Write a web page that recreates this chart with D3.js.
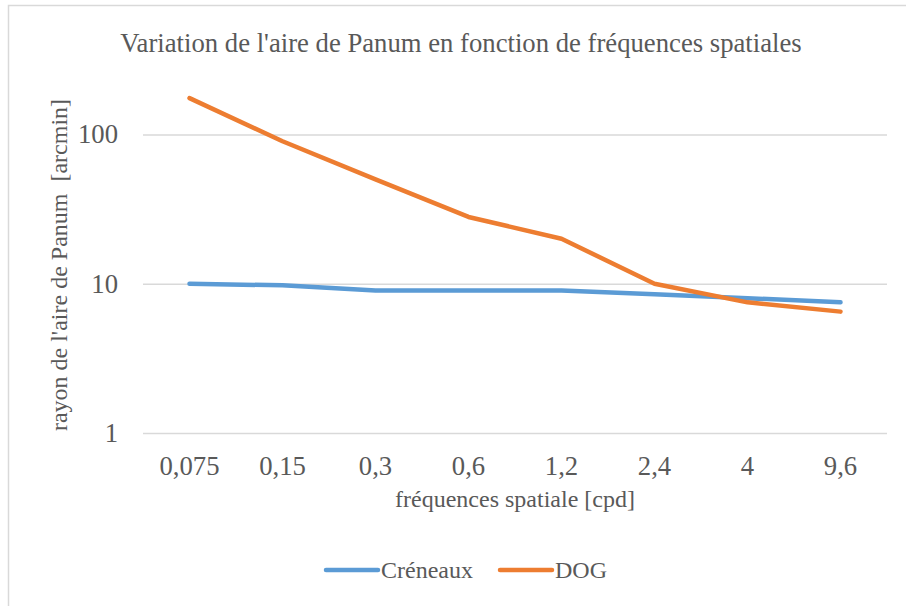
<!DOCTYPE html>
<html>
<head>
<meta charset="utf-8">
<script src="https://cdn.jsdelivr.net/npm/d3@7"></script>
<style>
  body { margin: 0; background: #fff; }
  svg { display: block; font-family: "Liberation Serif", "Times New Roman", serif; }
  text { fill: #595959; }
</style>
</head>
<body>
<svg width="906" height="606"></svg>
<script>
// spatial frequency categories (cpd)
var categories = ["0,075", "0,15", "0,3", "0,6", "1,2", "2,4", "4", "9,6"];
var creneaux = [10, 9.75, 9, 9, 9, 8.5, 8, 7.5];
var dog = [175, 90, 50, 28, 20, 10, 7.5, 6.5];
var yTicks = [1, 10, 100];

var series = [
  {name: "Créneaux", values: creneaux, color: "#5B9BD5"},
  {name: "DOG", values: dog, color: "#ED7D31"}
];

var svg = d3.select("svg"),
    margin = {top: 75, right: 19, bottom: 173, left: 143},
    width = 906 - margin.left - margin.right,
    height = 606 - margin.top - margin.bottom;

// chart area border (cropped on right / bottom)
svg.append("rect")
    .attr("x", 8.5).attr("y", 5.5)
    .attr("width", 1000).attr("height", 1000)
    .attr("fill", "none")
    .attr("stroke", "#D9D9D9")
    .attr("stroke-width", 1.5);

svg.append("text")
    .attr("x", 461).attr("y", 52)
    .attr("text-anchor", "middle")
    .style("font-size", "26.7px")
    .text("Variation de l'aire de Panum en fonction de fréquences spatiales");

var g = svg.append("g").attr("transform", "translate(" + margin.left + "," + margin.top + ")");

var x = d3.scaleBand().domain(categories).range([0, width]),
    y = d3.scaleLog().domain([1, 250]).range([height, 0]);

// gridlines
g.append("g")
    .attr("class", "grid")
    .call(d3.axisLeft(y).tickValues(yTicks).tickSize(-width).tickFormat(""))
    .call(function(s) {
      s.select(".domain").remove();
      s.selectAll("line").attr("stroke", "#D9D9D9").attr("stroke-width", 1.5);
    });

// y tick labels
g.append("g")
    .call(d3.axisLeft(y).tickValues(yTicks).tickSize(0).tickPadding(25).tickFormat(d3.format("d")))
    .attr("font-family", null)
    .attr("font-size", 26.7)
    .call(function(s) {
      s.select(".domain").remove();
      s.selectAll("text").attr("fill", "#595959");
    });

// x tick labels
g.append("g")
    .attr("transform", "translate(0," + height + ")")
    .call(d3.axisBottom(x).tickSize(0).tickPadding(23))
    .attr("font-family", null)
    .attr("font-size", 26.7)
    .call(function(s) {
      s.select(".domain").remove();
      s.selectAll("text").attr("fill", "#595959");
    });

var line = d3.line()
    .x(function(d, i) { return x(categories[i]) + x.bandwidth() / 2; })
    .y(function(d) { return y(d); });

g.selectAll(".series")
  .data(series)
  .enter().append("path")
    .attr("class", "series")
    .attr("d", function(d) { return line(d.values); })
    .attr("fill", "none")
    .attr("stroke", function(d) { return d.color; })
    .attr("stroke-width", 4.5)
    .attr("stroke-linecap", "round")
    .attr("stroke-linejoin", "round");

// axis titles
svg.append("text")
    .attr("x", margin.left + width / 2).attr("y", 507)
    .attr("text-anchor", "middle")
    .style("font-size", "24px")
    .text("fréquences spatiale [cpd]");

svg.append("text")
    .attr("transform", "translate(67,265) rotate(-90)")
    .attr("text-anchor", "middle")
    .style("font-size", "24px")
    .style("white-space", "pre")
    .text("rayon de l'aire de Panum  [arcmin]");

// legend
var legendX = [324, 498];
var legend = svg.selectAll(".legend")
  .data(series)
  .enter().append("g")
    .attr("class", "legend")
    .attr("transform", function(d, i) { return "translate(" + legendX[i] + ",570)"; });

legend.append("line")
    .attr("x1", 2).attr("x2", 54)
    .attr("stroke", function(d) { return d.color; })
    .attr("stroke-width", 4.5)
    .attr("stroke-linecap", "round");

legend.append("text")
    .attr("x", 57).attr("y", 8)
    .style("font-size", "24px")
    .text(function(d) { return d.name; });
</script>
</body>
</html>
